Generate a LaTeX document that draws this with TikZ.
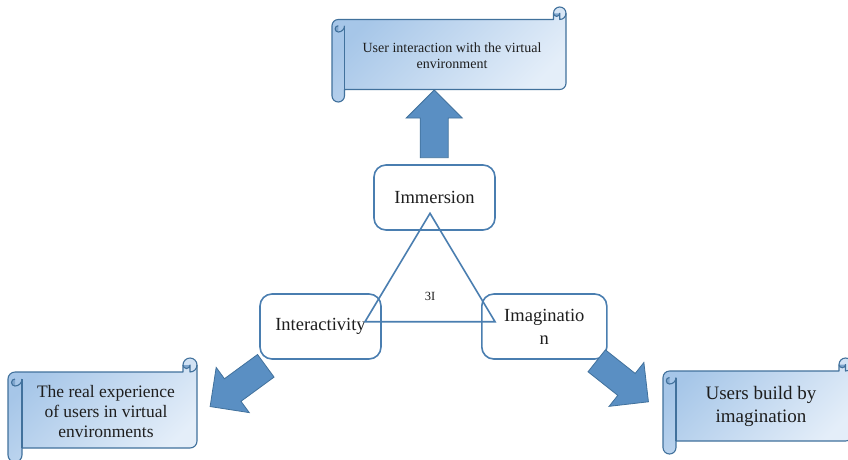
\documentclass[tikz,border=0pt]{standalone}
\usepackage{fontspec}
\setmainfont{Liberation Serif}
\usetikzlibrary{calc}
\definecolor{edgeblue}{HTML}{41719C}
\definecolor{boxblue}{HTML}{4A7EB0}
\definecolor{arrowfill}{HTML}{5A8FC3}
\definecolor{scrollA}{HTML}{A6C6E8}
\definecolor{scrollB}{HTML}{E4EEF9}
\definecolor{scrolldark}{HTML}{7FA6CE}
\definecolor{inktext}{HTML}{1E1E1E}
\tikzset{
  scrollbody/.style={draw=edgeblue, line width=1.1pt, line join=round,
    top color=scrollA, bottom color=scrollB, shading angle=45},
  scrollline/.style={draw=edgeblue, line width=1.1pt, line join=round},
  scrollcurl/.style={fill=scrolldark},
  cbox/.style={draw=boxblue, line width=1.6pt, fill=white, rounded corners=12pt,
    inner sep=0pt, align=center, text=inktext,
    font=\fontsize{18.5pt}{23pt}\selectfont},
  tri/.style={draw=boxblue, line width=1.6pt, line join=miter},
  smalllabel/.style={inner sep=0pt, text=inktext, font=\fontsize{12.5pt}{14pt}\selectfont},
  scrolltext/.style={inner sep=0pt, align=center, text=inktext},
  arrowstyle/.style={fill=arrowfill, draw=edgeblue, line width=0.8pt, line join=miter},
  blockarrow/.pic={
    \path[arrowstyle] (0,-14) -- ({#1-28},-14) -- ({#1-28},-28) -- (#1,0)
      -- ({#1-28},28) -- ({#1-28},14) -- (0,14) -- cycle;
  },
  blockarrow/.default=67
}
% L T R B ch  (pixel coordinates, y downward)
\newcommand\drawscroll[5]{%
  \pgfmathsetmacro\sL{#1}\pgfmathsetmacro\sT{#2}%
  \pgfmathsetmacro\sR{#3}\pgfmathsetmacro\sB{#4}%
  \pgfmathsetmacro\sc{#5}\pgfmathsetmacro\sh{#5/2}\pgfmathsetmacro\sq{#5/4}%
  \path[scrollbody] ({\sL+\sh},{\sT+\sc}) -- ({\sR-\sc},{\sT+\sc}) -- ({\sR-\sc},{\sT+\sh})
    arc[start angle=180,end angle=0,radius=\sh pt]
    -- ({\sR},{\sB-\sc-\sh})
    arc[start angle=0,end angle=-90,radius=\sh pt]
    -- ({\sL+\sc},{\sB-\sc}) -- ({\sL+\sc},{\sB-\sh})
    arc[start angle=0,end angle=-180,radius=\sh pt]
    -- ({\sL},{\sT+\sc+\sh})
    arc[start angle=180,end angle=90,radius=\sh pt] -- cycle;
  % top-right curl
  \fill[scrollcurl] ({\sR-\sh},{\sT+\sh}) arc[start angle=0,end angle=-180,radius=\sq pt] -- cycle;
  \path[scrollline] ({\sR},{\sT+\sh}) arc[start angle=0,end angle=-90,radius=\sh pt]
    -- ({\sR-\sh},{\sT+\sh}) arc[start angle=0,end angle=-180,radius=\sq pt];
  % top-left curl of the roll
  \fill[scrollcurl] ({\sL+\sh},{\sT+\sc+\sc}) arc[start angle=-90,end angle=-270,radius=\sq pt] -- cycle;
  \path[scrollline] ({\sL+\sc},{\sT+\sc+\sh}) arc[start angle=0,end angle=-90,radius=\sh pt]
    arc[start angle=-90,end angle=-270,radius=\sq pt];
  \path[scrollline] ({\sL+\sc},{\sT+\sc+\sh}) -- ({\sL+\sc},{\sB-\sc});
}
\begin{document}
\begin{tikzpicture}[x=1pt,y=-1pt]
\useasboundingbox[fill=white] (0,0) rectangle (848,459);

% scrolls
\drawscroll{332}{7}{566}{102}{12.5}
\drawscroll{8}{358}{197}{462}{14}
\drawscroll{663}{358}{852}{454}{13}

\node[scrolltext, font=\fontsize{14pt}{15.5pt}\selectfont] (sTop) at (452,55.5)
  {User interaction with the virtual\\environment};
\node[scrolltext, font=\fontsize{17.5pt}{20pt}\selectfont] (sLeft) at (106,412)
  {The real experience\\of users in virtual\\environments};
\node[scrolltext, font=\fontsize{19pt}{23pt}\selectfont] (sRight) at (761,406.5)
  {Users build by\\imagination};

% concept boxes
\node[cbox, minimum width=121pt, minimum height=65pt] (imm) at (434.5,197.5) {Immersion};
\node[cbox, minimum width=121pt, minimum height=65pt] (inter) at (320.5,326.5) {Interactivity};
\node[cbox, minimum width=125pt, minimum height=65pt] (imag) at (544.3,326.5) {Imaginatio\\n};

% triangle
\coordinate (tA) at (430,213.3);
\coordinate (tB) at (365,321.7);
\coordinate (tC) at (495,321.7);
\path[tri] (tA) -- (tB) -- (tC) -- cycle;
\node[smalllabel] (threeI) at (430,296) {3I};

% block arrows
\pic[rotate=90] at (434.2,157.7) {blockarrow=67.7};
\pic[rotate=216.2] at (265.8,365.8) {blockarrow=69};
\pic[rotate=-38.4] at (596.7,360.8) {blockarrow=66};
\end{tikzpicture}
\end{document}
